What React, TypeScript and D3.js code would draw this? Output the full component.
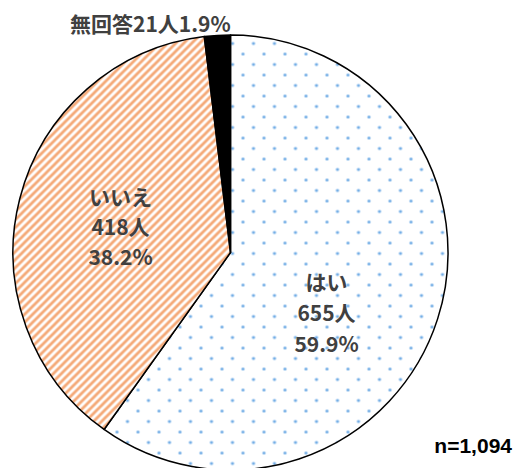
import React from "react";
import * as d3 from "d3";

const categories = ["はい", "いいえ", "無回答"];
const counts = [655, 418, 21];
const percents = ["59.9%", "38.2%", "1.9%"];
const totalLabel = "n=1,094";

const W = 522;
const H = 468;
const cx = 230.5;
const cy = 252.5;
const R = 217.5;

export default function App() {
  const pie = d3.pie<number>().sort(null).value((d) => d);
  const arcs = pie(counts);
  const arc = d3.arc<d3.PieArcDatum<number>>().innerRadius(0).outerRadius(R);
  const fills = ["url(#dots)", "url(#hatch)", "#000000"];
  const jp = "'Noto Sans CJK JP', 'Noto Sans', sans-serif";
  const labelStyle = { fontFamily: jp, fontWeight: 700, fontSize: 21, fill: "#404040" } as const;

  return (
    <svg width={W} height={H} style={{ position: "absolute", left: 0, top: 0 }}>
      <defs>
        <pattern id="dots" patternUnits="userSpaceOnUse" width={21} height={21}>
          <rect width={21} height={21} fill="#ffffff" />
          <circle cx={2} cy={1} r={1.6} fill="#74aee6" />
          <circle cx={12.5} cy={11.5} r={1.6} fill="#74aee6" />
          <circle cx={23} cy={1} r={1.6} fill="#74aee6" />
          <circle cx={2} cy={22} r={1.6} fill="#74aee6" />
        </pattern>
        <pattern id="hatch" patternUnits="userSpaceOnUse" width={8} height={8}>
          <rect width={8} height={8} fill="#ffffff" />
          <path d="M-2,2 L2,-2 M0,8 L8,0 M6,10 L10,6" stroke="#f4a876" strokeWidth={2.8} />
        </pattern>
      </defs>
      <g transform={`translate(${cx},${cy})`}>
        {arcs.map((a, i) => (
          <path key={categories[i]} d={arc(a) || ""} fill={fills[i]} stroke="#000" strokeWidth={1.5} strokeLinejoin="round" />
        ))}
      </g>
      <text x={70} y={32} style={labelStyle}>
        {`${categories[2]}${counts[2]}人${percents[2]}`}
      </text>
      <g textAnchor="middle" style={labelStyle}>
        <text x={cx - 110} y={205}>{categories[1]}</text>
        <text x={cx - 110} y={235}>{counts[1]}人</text>
        <text x={cx - 110} y={265}>{percents[1]}</text>
        <text x={cx + 96} y={290}>{categories[0]}</text>
        <text x={cx + 96} y={321}>{counts[0]}人</text>
        <text x={cx + 96} y={352}>{percents[0]}</text>
      </g>
      <text x={512} y={453} textAnchor="end" style={{ fontFamily: "'Liberation Sans', Arial, sans-serif", fontWeight: 700, fontSize: 21, fill: "#000" }}>
        {totalLabel}
      </text>
    </svg>
  );
}
